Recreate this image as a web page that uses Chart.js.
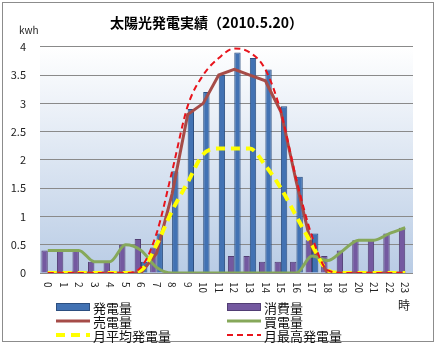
<!DOCTYPE html>
<html>
<head>
<meta charset="utf-8">
<script src="https://cdn.jsdelivr.net/npm/chart.js@4"></script>
<style>
html,body{margin:0;padding:0;background:#fff;}
#wrap{width:436px;height:345px;position:relative;}
</style>
</head>
<body>
<div id="wrap"><canvas id="c" width="436" height="345"></canvas></div>
<script>
const hours = ['0','1','2','3','4','5','6','7','8','9','10','11','12','13','14','15','16','17','18','19','20','21','22','23'];
const generation   = [0,0,0,0,0,0,0.2,0.7,1.8,2.9,3.2,3.5,3.9,3.8,3.6,2.95,1.7,0.7,0,0,0,0,0,0];
const consumption  = [0.4,0.4,0.4,0.2,0.2,0.5,0.6,0.45,0,0,0,0,0.3,0.3,0.2,0.2,0.2,0.58,0.3,0.4,0.58,0.58,0.7,0.8];
const sold         = [0,0,0,0,0,0,0,0.35,1.4,2.8,3.0,3.5,3.6,3.5,3.4,2.85,1.6,0.45,0,0,0,0,0,0];
const bought       = [0.4,0.4,0.4,0.2,0.2,0.5,0.4,0.1,0,0,0,0,0,0,0,0,0,0.3,0.22,0.4,0.58,0.58,0.7,0.8];
const monthAvg     = [0,0,0,0,0,0,0.05,0.5,1.1,1.6,2.1,2.2,2.2,2.2,1.9,1.5,1.0,0.5,0.05,0,0,0,0,0];
const monthMax     = [0,0,0,0,0,0,0.1,0.7,1.8,2.95,3.5,3.8,3.97,3.9,3.6,2.85,1.65,0.65,0.05,0,0,0,0,0];
const yTickLabels  = ['0','0.5','1','1.5','2','2.5','3','3.5','4'];
const seriesNames  = ['発電量','消費量','売電量','買電量','月平均発電量','月最高発電量'];
const titleText = '太陽光発電実績（2010.5.20）';
const yUnit = 'kwh';
const xUnit = '時';

const FONT = "'Noto Sans CJK JP', 'DejaVu Sans', sans-serif";

const decor = {
  id: 'decor',
  beforeDraw(chart) {
    const ctx = chart.ctx, a = chart.chartArea;
    ctx.save();
    ctx.fillStyle = '#ffffff';
    ctx.fillRect(0, 0, chart.width, chart.height);
    ctx.strokeStyle = '#8c8c8c';
    ctx.lineWidth = 1;
    ctx.strokeRect(2.5, 2.5, 431, 339);
    const g = ctx.createLinearGradient(0, a.top, 0, a.bottom);
    g.addColorStop(0, '#ffffff');
    g.addColorStop(1, '#b9cce5');
    ctx.fillStyle = g;
    ctx.fillRect(a.left, a.top, a.right - a.left, a.bottom - a.top);
    ctx.restore();
  },
  afterDraw(chart) {
    const ctx = chart.ctx, a = chart.chartArea;
    const xs = chart.scales.x;
    ctx.save();
    // x tick labels, rotated clockwise (reading top to bottom)
    ctx.fillStyle = '#222';
    ctx.font = '10px ' + FONT;
    ctx.textAlign = 'left';
    ctx.textBaseline = 'middle';
    chart.data.labels.forEach((lab, i) => {
      const px = xs.getPixelForValue(i);
      ctx.save();
      ctx.translate(px, a.bottom + 9);
      ctx.rotate(Math.PI / 2);
      ctx.fillText(lab, 0, 0);
      ctx.restore();
    });
    ctx.font = '10px ' + FONT;
    ctx.fillText(yUnit, 19, 30);
    ctx.font = '12px ' + FONT;
    ctx.fillText(xUnit, 398, 305);
    const ds = chart.data.datasets;
    const colX = [56, 227];
    const rowY = [307, 321, 335];
    ds.forEach((d, i) => {
      const x = colX[i % 2], y = rowY[Math.floor(i / 2)];
      ctx.save();
      if (d.type === 'bar') {
        ctx.fillStyle = d.backgroundColor;
        ctx.fillRect(x, y - 4, 34, 8);
        ctx.strokeStyle = d.borderColor;
        ctx.lineWidth = 1;
        ctx.strokeRect(x + 0.5, y - 3.5, 33, 7);
      } else {
        ctx.strokeStyle = d.borderColor;
        ctx.lineWidth = d.borderWidth;
        ctx.setLineDash(d.borderDash || []);
        ctx.beginPath();
        ctx.moveTo(x, y);
        ctx.lineTo(x + 34, y);
        ctx.stroke();
      }
      ctx.restore();
      ctx.fillStyle = '#111';
      ctx.font = '13px ' + FONT;
      ctx.textBaseline = 'middle';
      ctx.fillText(d.label, x + 37, y + 1);
    });
    ctx.restore();
  }
};

new Chart(document.getElementById('c'), {
  data: {
    labels: hours,
    datasets: [
      { type: 'bar', label: seriesNames[0], data: generation, backgroundColor: '#4272b3', borderColor: '#2c4f80', borderWidth: 1, order: 6, categoryPercentage: 0.82, barPercentage: 1.0 },
      { type: 'bar', label: seriesNames[1], data: consumption, backgroundColor: '#7459a0', borderColor: '#523e74', borderWidth: 1, order: 5, categoryPercentage: 0.82, barPercentage: 1.0 },
      { type: 'line', label: seriesNames[2], data: sold, borderColor: '#a64c48', borderWidth: 3, pointRadius: 0, tension: 0, order: 4, fill: false },
      { type: 'line', label: seriesNames[3], data: bought, borderColor: '#86a85a', borderWidth: 3, pointRadius: 0, cubicInterpolationMode: 'monotone', order: 3, fill: false },
      { type: 'line', label: seriesNames[4], data: monthAvg, borderColor: '#ffff00', borderWidth: 4, borderDash: [9, 6], pointRadius: 0, cubicInterpolationMode: 'monotone', order: 2, fill: false },
      { type: 'line', label: seriesNames[5], data: monthMax, borderColor: '#e8141c', borderWidth: 2, borderDash: [6, 4], pointRadius: 0, cubicInterpolationMode: 'monotone', order: 1, fill: false }
    ]
  },
  options: {
    responsive: false,
    animation: false,
    layout: { padding: { left: 0, right: 23, top: 0, bottom: 45 } },
    plugins: {
      legend: { display: false },
      tooltip: { enabled: false },
      title: { display: true, text: titleText, color: '#000', font: { family: FONT, size: 14, weight: 'bold' }, padding: { top: 14, bottom: 16 } }
    },
    scales: {
      x: {
        grid: { display: false },
        border: { display: false },
        ticks: { display: false },
        afterFit(s) { s.height = 27; }
      },
      y: {
        min: 0, max: 4,
        ticks: { stepSize: 0.5, color: '#222', font: { family: FONT, size: 11 }, padding: 14,
                 callback: (v, i) => yTickLabels[i] },
        grid: { color: '#8a8a8a', drawTicks: false },
        border: { display: false },
        afterFit(s) { s.width = 40; }
      }
    }
  },
  plugins: [decor]
});
</script>
</body>
</html>
